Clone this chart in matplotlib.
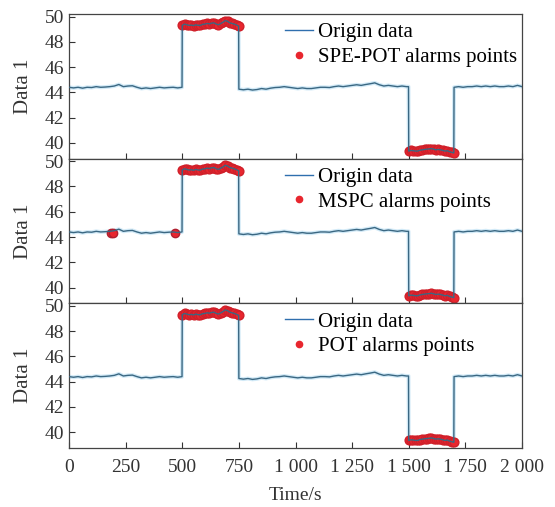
import matplotlib
matplotlib.use("Agg")
import matplotlib.pyplot as plt
import matplotlib.ticker as mticker
from matplotlib.lines import Line2D
import numpy as np

plt.rcParams['font.family'] = ['Liberation Serif', 'DejaVu Serif']

# Time axis (s) and the process value
time = [0, 20, 40, 60, 80, 100, 120, 140, 160, 180, 200, 220, 240, 260, 280, 300,
        320, 340, 360, 380, 400, 420, 440, 460, 480, 499,
        500, 510, 520, 530, 540, 550, 560, 570, 580, 590, 600, 610, 620, 630, 640,
        650, 660, 670, 680, 690, 700, 710, 720, 730, 740, 749,
        750, 770, 790, 810, 830, 850, 870, 890, 910, 930, 950, 970, 990, 1010,
        1030, 1050, 1070, 1090, 1110, 1130, 1150, 1170, 1190, 1210, 1230, 1250,
        1270, 1290, 1310, 1330, 1350, 1370, 1390, 1410, 1430, 1450, 1470, 1490, 1499,
        1500, 1510, 1520, 1530, 1540, 1550, 1560, 1570, 1580, 1590, 1600, 1610,
        1620, 1630, 1640, 1650, 1660, 1670, 1680, 1690, 1699,
        1700, 1720, 1740, 1760, 1780, 1800, 1820, 1840, 1860, 1880, 1900, 1920,
        1940, 1960, 1980, 2000]
data1 = [44.40, 44.35, 44.40, 44.33, 44.40, 44.38, 44.45, 44.40, 44.42, 44.45, 44.50, 44.62,
         44.45, 44.50, 44.52, 44.40, 44.30, 44.35, 44.30, 44.35, 44.40, 44.35, 44.38, 44.40,
         44.35, 44.40,
         49.30, 49.40, 49.35, 49.30, 49.32, 49.28, 49.35, 49.30, 49.30, 49.38, 49.40, 49.45,
         49.42, 49.48, 49.50, 49.40, 49.35, 49.45, 49.55, 49.68, 49.62, 49.50, 49.45, 49.40,
         49.32, 49.25,
         44.25, 44.20, 44.25, 44.18, 44.22, 44.30, 44.25, 44.33, 44.38, 44.40, 44.45, 44.40,
         44.35, 44.30, 44.35, 44.30, 44.30, 44.35, 44.40, 44.40, 44.38, 44.45, 44.50, 44.45,
         44.50, 44.55, 44.60, 44.55, 44.62, 44.68, 44.75, 44.60, 44.50, 44.55, 44.50, 44.45,
         44.50, 44.45, 44.45,
         39.35, 39.40, 39.38, 39.35, 39.35, 39.42, 39.45, 39.48, 39.50, 39.52, 39.55, 39.50,
         39.45, 39.48, 39.45, 39.40, 39.35, 39.38, 39.30, 39.25, 39.20,
         44.40, 44.45, 44.40, 44.45, 44.45, 44.50, 44.45, 44.50, 44.45, 44.50, 44.45, 44.45,
         44.50, 44.45, 44.55, 44.45]

# Alarm windows (s) for each method
fault_windows = [(500, 750), (1500, 1700)]
mspc_extra_time = [186, 194, 468]
mspc_extra_value = [44.30, 44.30, 44.32]

labels = ["SPE-POT alarms points", "MSPC alarms points", "POT alarms points"]

time = np.array(time)
data1 = np.array(data1)
in_alarm = np.zeros(len(time), dtype=bool)
for a, b in fault_windows:
    in_alarm |= (time >= a) & (time < b)

fig = plt.figure(figsize=(5.55, 5.07), dpi=100)
left, right, bottom, top = 69 / 555, 522 / 555, 1 - 448 / 507, 1 - 14 / 507
h = (top - bottom) / 3

axes = []
for i, lab in enumerate(labels):
    ax = fig.add_axes([left, top - (i + 1) * h, right - left, h])
    axes.append(ax)
    ax.plot(time[in_alarm], data1[in_alarm], 'o', color='#e8262e', ms=6.3,
            mec='#d0202a', zorder=2)
    if i == 1:
        ax.plot(mspc_extra_time, mspc_extra_value, 'o', color='#e8262e', ms=6.0,
                mec='#b02030', zorder=2)
    ax.plot(time, data1, color='#b5dcf2', lw=2.8, alpha=0.6, zorder=1)
    ax.plot(time, data1, color='#3a6782', lw=1.0, zorder=3)
    origin = Line2D([], [], color='#2f6fae', lw=1.0)
    dot = Line2D([], [], ls='none', marker='o', color='#e8262e', ms=4.5)
    ax.legend([origin, dot], ["Origin data", lab], loc='upper left',
              frameon=False, fontsize=15, handlelength=1.35, handletextpad=0.25,
              labelspacing=0.25, borderaxespad=0.0, borderpad=0.0,
              bbox_to_anchor=(0.477, 0.94))
    ax.set_xlim(0, 2000)
    ax.set_ylim(38.75, 50.2)
    ax.set_yticks([40, 42, 44, 46, 48, 50])
    ax.set_xticks([0, 250, 500, 750, 1000, 1250, 1500, 1750, 2000])
    ax.tick_params(direction='in', length=4, width=0.8, colors='#333333',
                   labelsize=14, labelcolor='#333333')
    ax.set_ylabel("Data 1", fontsize=15, color='#333333', labelpad=8)
    for s in ax.spines.values():
        s.set_color('#444444')
        s.set_linewidth(0.9)
    if i < 2:
        ax.tick_params(labelbottom=False)

axes[-1].xaxis.set_major_formatter(
    mticker.FuncFormatter(lambda v, p: f"{int(v):,}".replace(",", " ")))
axes[-1].tick_params(axis='x', pad=8)
axes[-1].set_xlabel("Time/s", fontsize=14, color='#333333', labelpad=8)

fig.savefig("out.png", dpi=100)
